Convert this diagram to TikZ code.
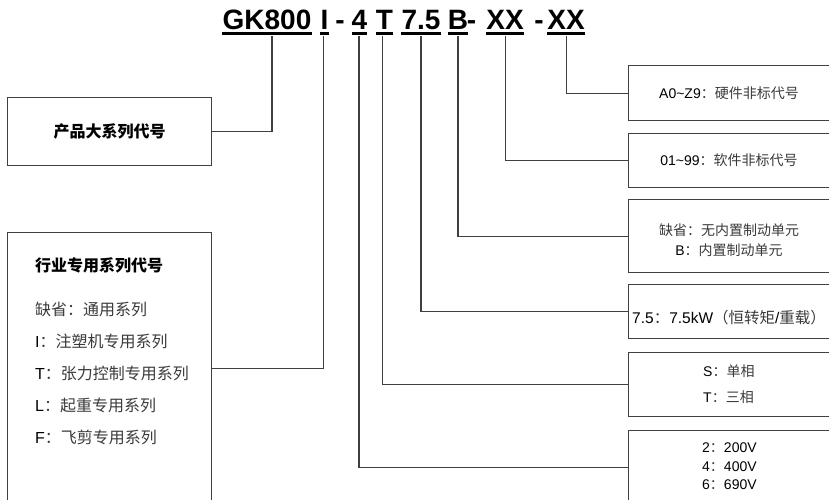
\documentclass[tikz,border=0pt]{standalone}
\usepackage{fontspec}
\setmainfont{Liberation Sans}
\newfontfamily\cjk{Noto Sans CJK SC}
\definecolor{zhgray}{HTML}{3A3A3A}
\definecolor{linegray}{HTML}{404040}
\newcommand\zh[1]{{\cjk\color{zhgray}#1}}
\begin{document}
\begin{tikzpicture}[x=1pt,y=-1pt,
  seg/.style={anchor=base, inner sep=0pt, font=\fontsize{28}{28}\selectfont\bfseries},
  box/.style={draw=linegray, line width=1.2pt, anchor=north west, inner sep=0pt},
  conn/.style={draw=linegray, line width=1.1pt},
  uline/.style={line width=2.7pt},
  ltxt/.style={anchor=west, inner sep=0pt, font=\fontsize{16}{16}\selectfont},
  rtxt/.style={inner sep=0pt, font=\fontsize{14}{14}\selectfont}]
\useasboundingbox (0,0) rectangle (829,499);
\clip (0,0) rectangle (829,499);
% code header
\node[seg] (gk) at (267,29) {GK800};
\node[seg] (i) at (324.5,29) {I};
\node[seg] (h1) at (340,29) {-};
\node[seg] (n4) at (359.5,29) {4};
\node[seg] (t) at (384.5,29) {T};
\node[seg] (p75) at (421,29) {7.5};
\node[seg] (b) at (458,29) {B};
\node[seg] (h2) at (471.5,29) {-};
\node[seg] (xx1) at (505,29) {XX};
\node[seg] (h3) at (539,29) {-};
\node[seg] (xx2) at (566,29) {XX};
\foreach \n in {gk,i,n4,t,p75,b,xx1,xx2}
  \draw[uline] ([yshift=-4.5pt]\n.base west) -- ([yshift=-4.5pt]\n.base east);
% boxes
\node[box, minimum width=204, minimum height=68] (box1) at (7,97) {};
\node[box, minimum width=204, minimum height=272] (box2) at (7,232) {};
\node[box, minimum width=230, minimum height=55] (bA) at (628,65) {};
\node[box, minimum width=230, minimum height=54] (bB) at (628,133) {};
\node[box, minimum width=230, minimum height=73] (bC) at (628,199) {};
\node[box, minimum width=230, minimum height=54] (bD) at (628,284) {};
\node[box, minimum width=230, minimum height=64] (bE) at (628,352) {};
\node[box, minimum width=230, minimum height=74] (bF) at (628,430) {};
% connectors
\draw[conn] ([xshift=5pt,yshift=-7pt]gk.base) |- (box1.east);
\draw[conn] ([xshift=-1pt,yshift=-7pt]i.base) |- (box2.east);
\draw[conn] ([xshift=-0.5pt,yshift=-7pt]n4.base) |- (bF.west);
\draw[conn] ([xshift=-2pt,yshift=-7pt]t.base) |- (bE.west);
\draw[conn] ([yshift=-7pt]p75.base) |- (bD.west);
\draw[conn] ([yshift=-7pt]b.base) |- (bC.west);
\draw[conn] ([xshift=0.5pt,yshift=-7pt]xx1.base) |- (bB.west);
\draw[conn] ([xshift=0.5pt,yshift=-7pt]xx2.base) |- (bA.west);
% left texts
\node[inner sep=0pt, font=\fontsize{16}{16}\selectfont\cjk\bfseries] (t1) at (box1.center) {产品大系列代号};
\node[ltxt, font=\fontsize{16}{16}\selectfont\cjk\bfseries] (t2) at (35,265) {行业专用系列代号};
\node[ltxt] (l1) at (35,309) {\zh{缺省：通用系列}};
\node[ltxt] (l2) at (35,341) {I\zh{：注塑机专用系列}};
\node[ltxt] (l3) at (35,373) {T\zh{：张力控制专用系列}};
\node[ltxt] (l4) at (35,405) {L\zh{：起重专用系列}};
\node[ltxt] (l5) at (35,437) {F\zh{：飞剪专用系列}};
% right texts
\node[rtxt] (ra) at (729,93) {A0\textasciitilde Z9\zh{：硬件非标代号}};
\node[rtxt] (rb) at (729,160) {01\textasciitilde 99\zh{：软件非标代号}};
\node[rtxt] (rc1) at (729,230) {\zh{缺省：无内置制动单元}};
\node[rtxt] (rc2) at (729,250) {B\zh{：内置制动单元}};
\node[rtxt, anchor=west, font=\fontsize{15.5}{15.5}\selectfont] (rd) at (632,318) {7.5\zh{：}7.5kW\zh{（恒转矩}/\zh{重载）}};
\node[rtxt, anchor=west] (re1) at (703,371) {S\zh{：单相}};
\node[rtxt, anchor=west] (re2) at (703,397) {T\zh{：三相}};
\node[rtxt, anchor=west] (rf1) at (702,448) {2\zh{：}200V};
\node[rtxt, anchor=west] (rf2) at (702,467) {4\zh{：}400V};
\node[rtxt, anchor=west] (rf3) at (702,485) {6\zh{：}690V};
\end{tikzpicture}
\end{document}
